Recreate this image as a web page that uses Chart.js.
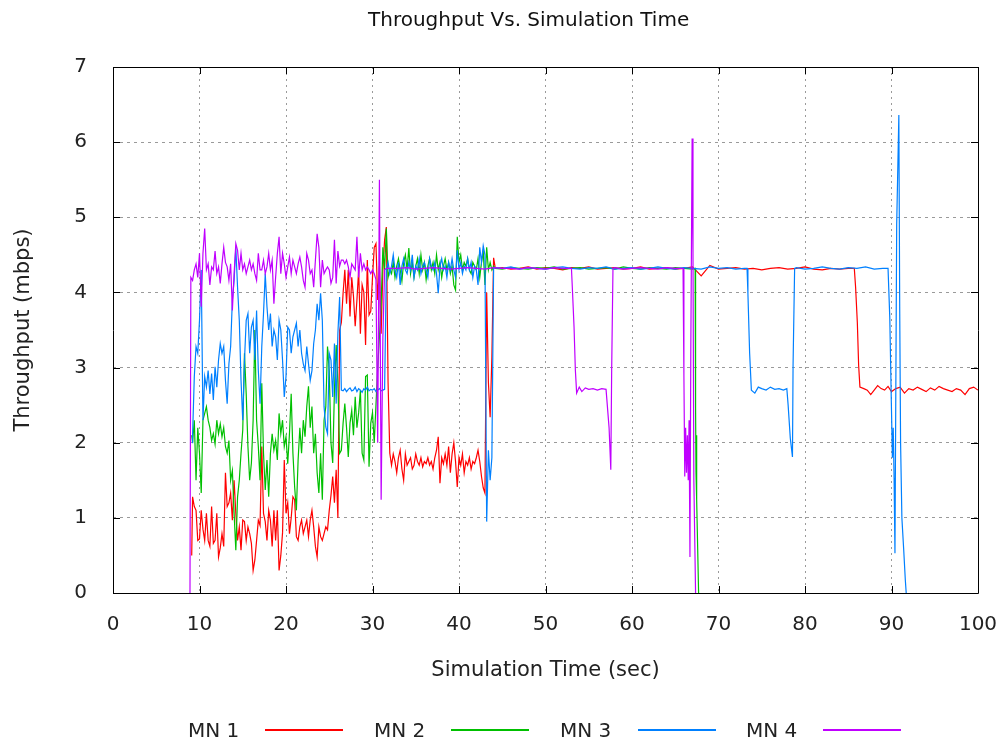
<!DOCTYPE html>
<html>
<head>
<meta charset="utf-8">
<title>Throughput Vs. Simulation Time</title>
<script src="https://cdn.jsdelivr.net/npm/chart.js@4.4.1/dist/chart.umd.min.js"></script>
<style>
  body { margin: 0; background: #fff; }
  #wrap { position: relative; width: 1000px; height: 742px; }
  #title { position: absolute; left: 368px; top: 7px; font: 20px "DejaVu Sans", sans-serif; color: #111; line-height: 24px; white-space: nowrap; }
  #legend span { position: absolute; font: 20px "DejaVu Sans", sans-serif; color: #222; line-height: 24px; }
  #legend i { position: absolute; height: 2px; width: 78px; }
</style>
</head>
<body>
<div id="wrap">
  <canvas id="chart"></canvas>
  <div id="title">Throughput Vs. Simulation Time</div>
  <div id="legend"></div>
</div>
<script>
/* =========================
   DATA
   ========================= */

const seriesNames = ["MN 1", "MN 2", "MN 3", "MN 4"];
const seriesColors = ["#ff0000", "#00c000", "#0080ff", "#c000ff"];
const xTicks = [0, 10, 20, 30, 40, 50, 60, 70, 80, 90, 100];
const yTicks = [0, 1, 2, 3, 4, 5, 6, 7];

/* shared sample times, 9.2 - 32.0 s and 32.2 - 44.2 s */
const denseTime = [9.2, 9.4, 9.6, 9.8, 10, 10.2, 10.4, 10.6, 10.8, 11, 11.2, 11.4, 11.6, 11.8, 12, 12.2, 12.4, 12.6, 12.8, 13,
  13.2, 13.4, 13.6, 13.8, 14, 14.2, 14.4, 14.6, 14.8, 15, 15.2, 15.4, 15.6, 15.8, 16, 16.2, 16.4, 16.6, 16.8, 17,
  17.2, 17.4, 17.6, 17.8, 18, 18.2, 18.4, 18.6, 18.8, 19, 19.2, 19.4, 19.6, 19.8, 20, 20.2, 20.4, 20.6, 20.8, 21,
  21.2, 21.4, 21.6, 21.8, 22, 22.2, 22.4, 22.6, 22.8, 23, 23.2, 23.4, 23.6, 23.8, 24, 24.2, 24.4, 24.6, 24.8, 25,
  25.2, 25.4, 25.6, 25.8, 26, 26.2, 26.4, 26.6, 26.8, 27, 27.2, 27.4, 27.6, 27.8, 28, 28.2, 28.4, 28.6, 28.8, 29,
  29.2, 29.4, 29.6, 29.8, 30, 30.2, 30.4, 30.6, 30.8, 31, 31.2, 31.4, 31.6, 31.8, 32];
const midTime = [32.2, 32.4, 32.6, 32.8, 33, 33.2, 33.4, 33.6, 33.8, 34, 34.2, 34.4, 34.6, 34.8, 35, 35.2, 35.4, 35.6, 35.8, 36,
  36.2, 36.4, 36.6, 36.8, 37, 37.2, 37.4, 37.6, 37.8, 38, 38.2, 38.4, 38.6, 38.8, 39, 39.2, 39.4, 39.6, 39.8, 40,
  40.2, 40.4, 40.6, 40.8, 41, 41.2, 41.4, 41.6, 41.8, 42, 42.2, 42.4, 42.6, 42.8, 43, 43.2, 43.4, 43.6, 43.8, 44, 44.2];

/* MN 1 */
const mn1HeadTime = [9.1];
const mn1Head = [0.5];
const mn1Dense = [1.28, 1.15, 1.1, 0.7, 0.72, 1.1, 0.85, 0.7, 1.06, 0.7, 0.62, 1.15, 0.66, 0.7, 1.06, 0.48, 0.6, 0.79, 0.62, 1.6,
  1.15, 1.2, 1.33, 0.97, 1.5, 1.06, 0.7, 0.88, 0.57, 0.97, 0.95, 0.7, 0.88, 0.79, 0.66, 0.3, 0.44, 0.7, 0.97, 0.9,
  1.95, 1.06, 0.95, 0.7, 1.1, 0.97, 0.62, 1.1, 0.7, 1.1, 0.3, 0.5, 0.8, 1.77, 1.06, 1.2, 0.79, 1.0, 1.28, 1.24,
  0.75, 0.7, 0.88, 0.97, 0.79, 0.88, 0.97, 0.75, 0.97, 1.1, 0.88, 0.62, 0.48, 0.88, 0.75, 0.7, 0.79, 0.88, 0.84, 1.1,
  1.3, 1.55, 1.2, 1.64, 1.0, 3.5, 3.6, 3.99, 4.3, 3.85, 4.3, 3.68, 4.2, 3.95, 3.55, 3.9, 4.3, 3.45, 4.1, 4.0,
  3.3, 4.43, 3.7, 3.75, 4.2, 4.6, 4.65, 3.9, 4.35, 3.45, 4.3, 4.7, 4.87, 2.8, 1.86];
const mn1Mid = [1.7, 1.85, 1.75, 1.6, 1.8, 1.9, 1.65, 1.5, 1.85, 1.7, 1.75, 1.8, 1.65, 1.7, 1.85, 1.75, 1.7, 1.8, 1.68, 1.75,
  1.72, 1.8, 1.7, 1.75, 1.65, 1.8, 1.9, 2.08, 1.46, 1.8, 1.72, 1.85, 1.7, 1.95, 1.6, 1.85, 2.0, 1.75, 1.41, 1.8,
  1.7, 1.85, 1.6, 1.75, 1.7, 1.8, 1.65, 1.75, 1.72, 1.8, 1.9, 1.75, 1.55, 1.4, 1.33, 4.0, 2.8, 2.34, 3.14, 4.46, 4.32];
const mn1TailTime = [45, 46, 47, 48, 49, 50, 51, 52, 53, 54, 55, 56, 57, 58, 59, 60, 61, 62, 63, 64,
  65, 66, 67, 68, 69, 70, 71, 72, 73, 74, 75, 76, 77, 78, 79, 80, 81, 82, 83, 84, 85,
  85.7, 85.85, 86.05, 86.2, 86.35, 86.8, 87.2, 87.6, 88, 88.4, 88.8, 89.2, 89.6, 90,
  90.5, 91, 91.5, 92, 92.5, 93, 93.5, 94, 94.5, 95, 95.5, 96, 96.5, 97, 97.5, 98, 98.5, 99, 99.5, 100];
const mn1Tail = [4.33, 4.31, 4.32, 4.34, 4.31, 4.33, 4.32, 4.30, 4.33, 4.32, 4.34, 4.31, 4.32, 4.33, 4.31, 4.32, 4.34, 4.31, 4.32, 4.33,
  4.31, 4.32, 4.34, 4.22, 4.36, 4.31, 4.32, 4.33, 4.31, 4.32, 4.30, 4.32, 4.33, 4.31, 4.32, 4.34, 4.31, 4.30, 4.32, 4.31, 4.32,
  4.32, 4.07, 3.6, 3.03, 2.74, 2.72, 2.7, 2.64, 2.7, 2.76, 2.72, 2.7, 2.75, 2.68,
  2.72, 2.74, 2.66, 2.72, 2.7, 2.74, 2.71, 2.68, 2.73, 2.7, 2.75, 2.72, 2.7, 2.68, 2.72, 2.7, 2.64, 2.72, 2.74, 2.7];

/* MN 2 */
const mn2HeadTime = [9.1];
const mn2Head = [2.1];
const mn2Dense = [2.0, 2.3, 1.5, 2.2, 1.86, 1.33, 2.3, 2.39, 2.48, 2.3, 2.2, 2.03, 2.12, 1.98, 2.3, 2.12, 2.25, 2.08, 2.2, 1.95,
  1.86, 2.03, 1.5, 1.63, 1.06, 0.57, 1.28, 1.5, 1.86, 2.17, 3.19, 2.65, 1.95, 1.5, 1.73, 2.3, 3.5, 2.3, 1.95, 1.5,
  2.79, 1.86, 1.37, 1.77, 1.28, 1.86, 2.12, 1.9, 2.03, 1.77, 2.39, 2.12, 2.3, 1.95, 2.08, 1.72, 2.12, 2.65, 1.86, 1.41,
  1.1, 1.77, 2.2, 1.86, 2.3, 2.08, 2.48, 2.75, 2.2, 2.48, 1.86, 2.12, 1.6, 1.33, 1.86, 1.24, 2.3, 2.48, 3.28, 2.95,
  2.0, 1.73, 2.7, 3.3, 2.8, 1.86, 1.9, 2.26, 2.52, 2.2, 1.81, 2.26, 2.43, 2.1, 2.61, 2.2, 2.4, 2.7, 1.86, 1.77,
  2.88, 2.9, 1.68, 2.26, 2.4, 2.0, 2.5, 3.0, 3.4, 3.85, 4.6, 4.3, 4.85, 4.2, 4.3];
const mn2Mid = [4.25, 4.4, 4.2, 4.35, 4.45, 4.3, 4.15, 4.4, 4.5, 4.3, 4.59, 4.25, 4.4, 4.2, 4.35, 4.45, 4.25, 4.5, 4.3, 4.4,
  4.17, 4.35, 4.45, 4.3, 4.4, 4.25, 4.5, 4.3, 4.4, 4.2, 4.35, 4.45, 4.3, 4.4, 4.25, 4.35, 4.1, 4.03, 4.74, 4.4,
  4.5, 4.3, 4.4, 4.35, 4.45, 4.3, 4.25, 4.4, 4.35, 4.3, 4.45, 4.2, 4.4, 4.55, 4.1, 4.6, 4.3, 4.4, 4.3, 4.35, 4.32];
const mn2TailTime = [45, 46, 47, 48, 49, 50, 51, 52, 53, 54, 55, 56, 57, 58, 59, 60, 61, 62, 63, 64, 65, 66, 67,
  67.3, 67.35, 67.4, 67.45, 67.5, 67.7];
const mn2Tail = [4.31, 4.33, 4.32, 4.31, 4.33, 4.32, 4.34, 4.31, 4.32, 4.33, 4.31, 4.32, 4.33, 4.31, 4.34, 4.32, 4.31, 4.33, 4.32, 4.31, 4.33, 4.32, 4.31,
  4.32, 2.46, 1.6, 2.1, 1.24, 0];

/* MN 3 */
const mn3HeadTime = [9.15];
const mn3Head = [2.0];
const mn3Dense = [2.1, 2.88, 3.28, 3.19, 3.63, 4.3, 2.3, 2.88, 2.74, 2.96, 2.65, 2.92, 2.57, 3.01, 2.74, 3.1, 3.32, 3.19, 3.28, 2.83,
  2.52, 3.05, 3.28, 3.9, 4.16, 4.6, 4.07, 3.63, 2.83, 2.3, 3.1, 3.63, 3.72, 3.19, 3.54, 3.63, 3.1, 3.76, 2.96, 2.52,
  3.28, 3.72, 4.25, 3.81, 3.5, 3.72, 3.28, 3.5, 3.41, 3.1, 3.63, 3.5, 3.1, 2.61, 2.88, 3.54, 3.5, 3.19, 3.41, 3.5,
  3.59, 3.28, 3.5, 3.19, 3.05, 2.96, 3.28, 3.05, 2.83, 2.96, 3.32, 3.5, 3.85, 3.63, 3.99, 3.63, 2.48, 2.21, 2.12, 3.19,
  3.1, 2.61, 3.32, 2.52, 3.46, 3.94, 2.7, 2.69, 2.72, 2.68, 2.71, 2.73, 2.69, 2.7, 2.74, 2.68, 2.72, 2.7, 2.67, 2.72,
  2.7, 2.74, 2.69, 2.71, 2.7, 2.72, 2.68, 2.7, 2.72, 2.69, 2.7, 2.71, 4.3, 4.4, 4.25];
const mn3Mid = [4.35, 4.5, 4.3, 4.2, 4.4, 4.1, 4.35, 4.45, 4.3, 4.25, 4.4, 4.3, 4.5, 4.2, 4.35, 4.3, 4.45, 4.25, 4.35, 4.4,
  4.3, 4.2, 4.45, 4.35, 4.3, 4.4, 4.25, 3.99, 4.35, 4.45, 4.3, 4.35, 4.2, 4.4, 4.3, 4.45, 4.3, 4.2, 4.56, 4.3,
  4.4, 4.25, 4.35, 4.3, 4.45, 4.3, 4.4, 4.2, 4.35, 4.3, 4.1, 4.6, 4.4, 4.62, 4.5, 0.95, 1.9, 1.5, 1.8, 4.32, 4.33];
const mn3TailTime = [45, 46, 47, 48, 49, 50, 51, 52, 53, 54, 55, 56, 57, 58, 59, 60, 61, 62, 63, 64, 65, 66, 67, 68, 69, 70, 71, 72, 73,
  73.3, 73.4, 73.6, 73.8, 74.2, 74.6, 75, 75.5, 76, 76.5, 77, 77.5, 77.9, 78.05, 78.3, 78.55, 78.62, 78.8,
  79, 80, 81, 82, 83, 84, 85, 86, 87, 88, 89,
  89.6, 89.8, 90, 90.1, 90.2, 90.3, 90.4, 90.6, 90.85, 90.95, 91.05, 91.2, 91.4, 91.6, 91.7];
const mn3Tail = [4.32, 4.34, 4.31, 4.33, 4.32, 4.31, 4.33, 4.34, 4.32, 4.31, 4.33, 4.32, 4.34, 4.31, 4.32, 4.33, 4.31, 4.32, 4.34, 4.32,
  4.31, 4.33, 4.32, 4.31, 4.34, 4.32, 4.33, 4.31, 4.32,
  4.32, 3.99, 3.19, 2.7, 2.66, 2.74, 2.72, 2.7, 2.74, 2.71, 2.72, 2.7, 2.72, 2.5, 2.06, 1.81, 3.03, 4.32,
  4.33, 4.31, 4.32, 4.34, 4.32, 4.31, 4.33, 4.32, 4.34, 4.31, 4.32,
  4.32, 3.67, 2.43, 1.8, 2.2, 1.53, 0.53, 4.9, 6.36, 3.77, 2.0, 1.0, 0.6, 0.17, 0];

/* MN 4 */
const mn4HeadTime = [8.9, 9.0];
const mn4Head = [0, 4.2];
const mn4Dense = [4.16, 4.3, 4.38, 4.2, 4.52, 3.81, 4.52, 4.85, 4.3, 4.38, 4.1, 4.34, 4.3, 4.55, 4.25, 4.34, 4.12, 4.38, 4.6, 4.4,
  4.34, 4.16, 4.38, 3.76, 4.25, 4.65, 4.56, 4.3, 4.52, 4.3, 4.38, 4.25, 4.34, 4.43, 4.3, 4.38, 4.25, 4.16, 4.52, 4.3,
  4.3, 4.43, 4.25, 4.34, 4.52, 4.3, 4.43, 3.85, 4.2, 4.52, 4.74, 4.25, 4.52, 4.38, 4.2, 4.34, 4.47, 4.25, 4.43, 4.34,
  4.25, 4.38, 4.47, 4.34, 4.16, 4.07, 4.52, 4.43, 4.25, 4.3, 4.07, 4.43, 4.78, 4.6, 4.07, 4.43, 4.25, 4.3, 4.34, 4.3,
  4.12, 4.2, 4.7, 4.12, 4.55, 4.35, 4.43, 4.43, 4.38, 4.43, 4.34, 4.2, 4.38, 4.34, 4.3, 4.74, 4.2, 4.52, 4.3, 4.38,
  4.3, 4.34, 4.3, 4.25, 4.3, 4.25, 4.17, 2.0, 5.5, 1.24, 3.4, 4.3, 4.32, 4.32, 4.32];
const mn4TailTime = [33, 34, 35, 36, 37, 38, 39, 40, 41, 42, 43, 44, 45, 46, 47, 48, 49, 50, 51, 52,
  53, 53.1, 53.3, 53.45, 53.6, 53.9, 54.2, 54.6, 55, 55.5, 56, 56.5, 57, 57.35, 57.55, 57.65, 57.8,
  58, 59, 60, 61, 62, 63, 64, 65,
  65.9, 66, 66.1, 66.2, 66.3, 66.4, 66.5, 66.6, 66.7, 66.8, 66.95, 67.05, 67.15, 67.35];
const mn4Tail = [4.32, 4.33, 4.31, 4.32, 4.33, 4.32, 4.31, 4.32, 4.33, 4.32, 4.31, 4.33, 4.32, 4.32, 4.31, 4.33, 4.32, 4.31, 4.33, 4.32,
  4.32, 4.07, 3.54, 2.97, 2.66, 2.74, 2.68, 2.73, 2.71, 2.72, 2.7, 2.72, 2.71, 2.2, 1.64, 2.97, 4.32,
  4.33, 4.31, 4.32, 4.33, 4.32, 4.31, 4.33, 4.32,
  4.32, 2.9, 1.55, 2.2, 1.6, 2.1, 1.5, 2.3, 0.48, 3.26, 6.05, 4.52, 1.5, 0];

/* =========================
   BUILD SERIES
   ========================= */

function pairUp(times, values) {
  if (times.length !== values.length) console.warn("length mismatch", times.length, values.length);
  return times.map((t, i) => ({ x: t, y: values[i] }));
}

const seriesData = [
  pairUp([...mn1HeadTime, ...denseTime, ...midTime, ...mn1TailTime], [...mn1Head, ...mn1Dense, ...mn1Mid, ...mn1Tail]),
  pairUp([...mn2HeadTime, ...denseTime, ...midTime, ...mn2TailTime], [...mn2Head, ...mn2Dense, ...mn2Mid, ...mn2Tail]),
  pairUp([...mn3HeadTime, ...denseTime, ...midTime, ...mn3TailTime], [...mn3Head, ...mn3Dense, ...mn3Mid, ...mn3Tail]),
  pairUp([...mn4HeadTime, ...denseTime, ...mn4TailTime], [...mn4Head, ...mn4Dense, ...mn4Tail])
];

const FONT = "'DejaVu Sans', sans-serif";
Chart.defaults.font.family = FONT;
Chart.defaults.color = "#222";

/* frame + inward tick marks like gnuplot */
const framePlugin = {
  id: "frame",
  afterDatasetsDraw(chart) {
    const { ctx, chartArea: a, scales: { x, y } } = chart;
    ctx.save();
    ctx.strokeStyle = "#000";
    ctx.lineWidth = 1;
    ctx.beginPath();
    ctx.rect(Math.round(a.left) + 0.5, Math.round(a.top) + 0.5, Math.round(a.right - a.left), Math.round(a.bottom - a.top));
    xTicks.forEach(v => {
      const px = Math.round(x.getPixelForValue(v)) + 0.5;
      ctx.moveTo(px, a.bottom); ctx.lineTo(px, a.bottom - 7);
      ctx.moveTo(px, a.top); ctx.lineTo(px, a.top + 7);
    });
    yTicks.forEach(v => {
      const py = Math.round(y.getPixelForValue(v)) + 0.5;
      ctx.moveTo(a.left, py); ctx.lineTo(a.left + 7, py);
      ctx.moveTo(a.right, py); ctx.lineTo(a.right - 7, py);
    });
    ctx.stroke();
    ctx.restore();
  }
};

new Chart(document.getElementById("chart"), {
  type: "line",
  data: {
    datasets: seriesData.map((pts, i) => ({
      label: seriesNames[i],
      data: pts,
      borderColor: seriesColors[i],
      backgroundColor: seriesColors[i],
      borderWidth: 1.2,
      pointRadius: 0,
      tension: 0,
      fill: false,
      order: 4 - i
    }))
  },
  options: {
    responsive: true,
    maintainAspectRatio: false,
    animation: false,
    layout: { padding: { left: 0, right: 22, top: 67, bottom: 0 } },
    plugins: {
      legend: { display: false },
      tooltip: { enabled: false },
      title: { display: false }
    },
    scales: {
      x: {
        type: "linear",
        min: 0,
        max: 100,
        afterFit: s => { s.height = 149; s.paddingLeft = 0; s.paddingRight = 0; },
        afterBuildTicks: s => { s.ticks = xTicks.map(v => ({ value: v })); },
        ticks: { padding: 20, font: { size: 20 }, color: "#222", maxRotation: 0, autoSkip: false },
        grid: { color: "#9a9a9a", lineWidth: 1, drawTicks: false },
        border: { display: false, dash: [2, 4] },
        title: { display: true, text: "Simulation Time (sec)", font: { size: 21 }, color: "#222", padding: { top: 0, bottom: 59 } }
      },
      y: {
        min: 0,
        max: 7,
        afterFit: s => { s.width = 113; s.paddingTop = 0; s.paddingBottom = 0; },
        afterBuildTicks: s => { s.ticks = yTicks.map(v => ({ value: v })); },
        ticks: { padding: 26, font: { size: 20 }, color: "#222" },
        grid: { color: "#9a9a9a", lineWidth: 1, drawTicks: false },
        border: { display: false, dash: [3, 4] },
        title: { display: true, text: "Throughput (mbps)", font: { size: 21 }, color: "#222", padding: { top: 11, bottom: 0 } }
      }
    }
  },
  plugins: [framePlugin]
});

/* legend: label then line sample, as in the original */
const legendSlots = [[188, 265], [374, 451], [560, 638], [746, 823]];
const legend = document.getElementById("legend");
seriesNames.forEach((name, i) => {
  const label = document.createElement("span");
  label.textContent = name;
  label.style.left = legendSlots[i][0] + "px";
  label.style.top = "718px";
  const line = document.createElement("i");
  line.style.left = legendSlots[i][1] + "px";
  line.style.top = "729px";
  line.style.background = seriesColors[i];
  legend.appendChild(label);
  legend.appendChild(line);
});
</script>
</body>
</html>
